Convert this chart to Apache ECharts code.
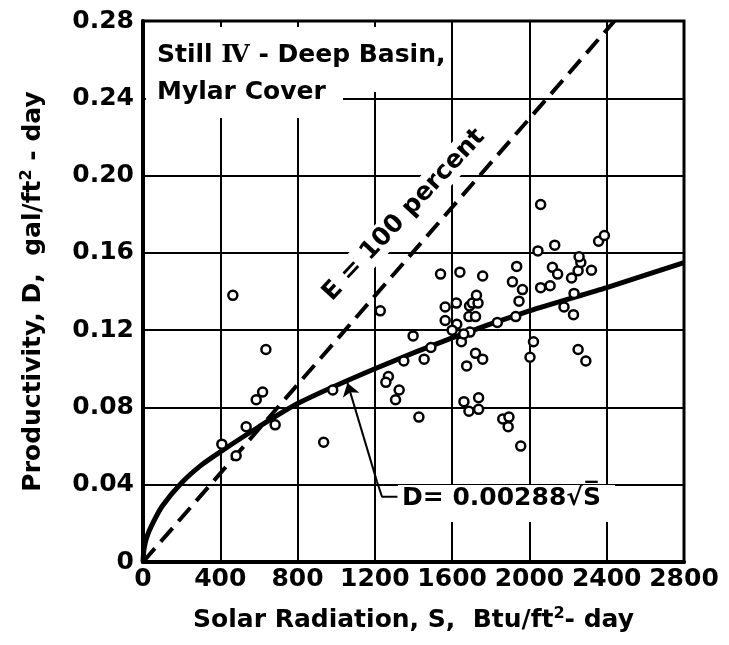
<!DOCTYPE html>
<html>
<head>
<meta charset="utf-8">
<script src="https://cdn.jsdelivr.net/npm/echarts@6/dist/echarts.min.js"></script>
<style>
    html, body {margin:0;padding:0;background:#fff;}
    #chart {width:729px;height:645px;}
</style>
</head>
<body>
<div id="chart"></div>
<script>
    // axis ticks
    var xTicks = [0, 400, 800, 1200, 1600, 2000, 2400, 2800];
    var yTicks = [0, 0.04, 0.08, 0.12, 0.16, 0.20, 0.24, 0.28];

    // measured points: solar radiation S (Btu/ft2-day) and productivity D (gal/ft2-day)
    var solarS = [408, 482, 465, 534, 586, 619, 636, 684, 935, 982, 1228, 1270, 1257, 1326, 1307, 1350, 1398, 1428, 1455, 1490,
        1540, 1564, 1564, 1622, 1640, 1624, 1648, 1675, 1692, 1690, 1687, 1705, 1734, 1726, 1721, 1721, 1758, 1758, 1661, 1687,
        1737, 1737, 1862, 1894, 1890, 1955, 1834, 1929, 1946, 1964, 1912, 1934, 2003, 2021, 2044, 2058, 2058, 2107, 2131, 2119,
        2146, 2179, 2228, 2231, 2218, 2252, 2266, 2257, 2321, 2252, 2292, 2358, 2388, 1600, 1660];
    var prodD = [0.061, 0.055, 0.138, 0.070, 0.084, 0.088, 0.110, 0.071, 0.062, 0.089, 0.130, 0.096, 0.093, 0.089, 0.084, 0.104, 0.117, 0.075, 0.105, 0.111,
        0.149, 0.132, 0.125, 0.134, 0.150, 0.123, 0.114, 0.1015, 0.119, 0.1325, 0.127, 0.134, 0.134, 0.138, 0.127, 0.108, 0.105, 0.148, 0.083, 0.078,
        0.085, 0.079, 0.074, 0.075, 0.070, 0.060, 0.124, 0.127, 0.135, 0.141, 0.145, 0.153, 0.106, 0.114, 0.161, 0.185, 0.142, 0.143, 0.164, 0.1525,
        0.149, 0.132, 0.128, 0.139, 0.147, 0.1508, 0.155, 0.158, 0.151, 0.110, 0.104, 0.166, 0.169, 0.120, 0.118];

    // E = 100 percent line
    var effS = [0, 2440];
    var effD = [0, 0.28];

    // fitted curve D = 0.00288 sqrt(S)
    var fitS = [0, 5, 20, 50, 100, 200, 300, 400, 600, 800, 1200, 1600, 2000, 2400, 2800];
    var fitD = [0, 0.0065, 0.013, 0.020, 0.029, 0.041, 0.050, 0.057, 0.070, 0.082, 0.100, 0.116, 0.130, 0.142, 0.155];

    // leader from the equation label to the curve
    var leaderS = [1058, 1211, 1237, 1317];
    var leaderD = [0.0927, 0.0416, 0.0338, 0.0338];

    function pairs(a, b) {
        return a.map(function (v, i) { return [v, b[i]]; });
    }

    var font = 'DejaVu Sans';
    var chart = echarts.init(document.getElementById('chart'));

    var option = {
        animation: false,
        backgroundColor: '#fff',
        grid: {left: 143, right: 45, top: 21, bottom: 83, show: true, borderColor: '#000', borderWidth: 3},
        xAxis: {
            type: 'value',
            min: xTicks[0], max: xTicks[xTicks.length - 1], interval: xTicks[1] - xTicks[0],
            axisLine: {show: true, lineStyle: {color: '#000', width: 4}},
            axisTick: {show: false},
            splitLine: {show: true, lineStyle: {color: '#000', width: 2}},
            axisLabel: {color: '#000', fontFamily: font, fontWeight: 'bold', fontSize: 25, margin: 5,
                formatter: function (v) { return String(v); }},
            name: 'Solar Radiation, S,  Btu/ft{sup|2}- day',
            nameLocation: 'middle',
            nameGap: 44,
            nameTextStyle: {color: '#000', fontFamily: font, fontWeight: 'bold', fontSize: 25,
                rich: {sup: {fontFamily: font, fontWeight: 'bold', fontSize: 16, padding: [0, 0, 12, 0]}}}
        },
        yAxis: {
            type: 'value',
            min: yTicks[0], max: yTicks[yTicks.length - 1], interval: 0.04,
            axisLine: {show: true, lineStyle: {color: '#000', width: 4}},
            axisTick: {show: false},
            splitLine: {show: true, lineStyle: {color: '#000', width: 2}},
            axisLabel: {color: '#000', fontFamily: font, fontWeight: 'bold', fontSize: 25, margin: 9,
                formatter: function (v) { return v === 0 ? '0' : v.toFixed(2); }},
            name: 'Productivity, D,  gal/ft{sup|2} - day',
            nameLocation: 'middle',
            nameRotate: 90,
            nameGap: 96,
            nameTextStyle: {color: '#000', fontFamily: font, fontWeight: 'bold', fontSize: 25,
                rich: {sup: {fontFamily: font, fontWeight: 'bold', fontSize: 16, padding: [0, 0, 12, 0]}}}
        },
        series: [
            {
                type: 'line',
                data: pairs(effS, effD),
                symbol: 'none',
                lineStyle: {color: '#000', width: 4, type: [18, 9]},
                z: 3
            },
            {
                type: 'line',
                data: pairs(fitS, fitD),
                symbol: 'none',
                smooth: 0.2,
                lineStyle: {color: '#000', width: 5},
                z: 3
            },
            {
                type: 'line',
                data: pairs(leaderS, leaderD).slice(1),
                symbol: 'none',
                lineStyle: {color: '#000', width: 2},
                markLine: {
                    silent: true,
                    symbol: ['none', 'arrow'],
                    symbolSize: 13,
                    label: {show: false},
                    lineStyle: {color: '#000', width: 2, type: 'solid'},
                    data: [[{coord: [leaderS[1], leaderD[1]]}, {coord: [leaderS[0], leaderD[0]]}]]
                },
                z: 3
            },
            {
                type: 'scatter',
                data: pairs(solarS, prodD),
                symbol: 'circle',
                symbolSize: 9,
                itemStyle: {color: '#fff', borderColor: '#000', borderWidth: 2.5, opacity: 1},
                z: 4
            }
        ],
        graphic: [
            {type: 'rect', z: 20, shape: {x: 146, y: 27, width: 304, height: 65}, style: {fill: '#fff'}},
            {type: 'rect', z: 20, shape: {x: 146, y: 92, width: 197, height: 26}, style: {fill: '#fff'}},
            {type: 'text', z: 21, x: 157, y: 55,
                style: {text: 'Still {rn|Ⅳ} - Deep Basin,', font: 'bold 25px ' + font, fill: '#000', verticalAlign: 'middle',
                    rich: {rn: {fontFamily: 'DejaVu Serif', fontSize: 25, fontWeight: 'bold'}}}},
            {type: 'text', z: 21, x: 157, y: 92,
                style: {text: 'Mylar Cover', font: 'bold 25px ' + font, fill: '#000', verticalAlign: 'middle'}},
            {type: 'text', z: 21, x: 404, y: 215, rotation: 47 * Math.PI / 180,
                style: {text: 'E = 100 percent', font: 'bold 25px ' + font, fill: '#000', align: 'center', verticalAlign: 'middle',
                    backgroundColor: '#fff', padding: [2, 5]}},
            {type: 'rect', z: 20, shape: {x: 398, y: 485, width: 217, height: 37}, style: {fill: '#fff'}},
            {type: 'text', z: 21, x: 402, y: 498,
                style: {text: 'D= 0.00288√S\u0305', font: 'bold 25px ' + font, fill: '#000', verticalAlign: 'middle'}}
        ]
    };
    chart.setOption(option);
</script>
</body>
</html>
